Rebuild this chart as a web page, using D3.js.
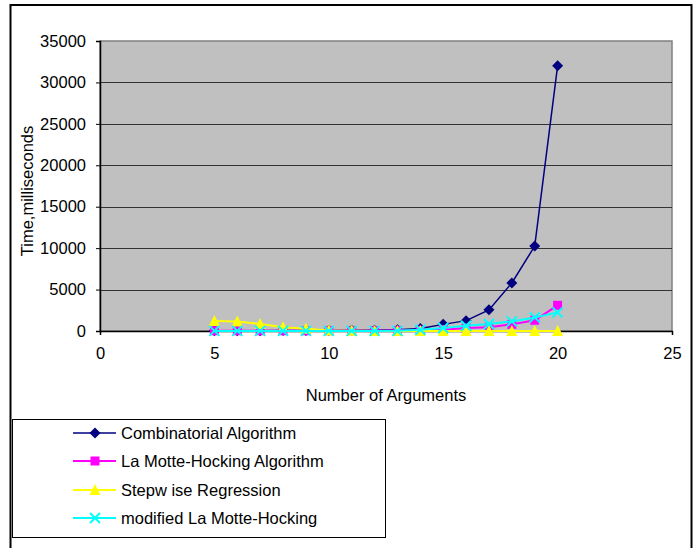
<!DOCTYPE html>
<html lang="en">
<head>
<meta charset="UTF-8">
<title>Chart</title>
<script src="https://d3js.org/d3.v7.min.js"></script>
<style type="text/css">
  body { margin: 0; background: #fff; }
  text { font-family: "Liberation Sans", Arial, sans-serif; fill: #000; }
</style>
</head>
<body>
<script>
// data
var args = [5, 6, 7, 8, 9, 10, 11, 12, 13, 14, 15, 16, 17, 18, 19, 20];
var combinatorial = [20, 30, 40, 50, 60, 70, 80, 100, 150, 300, 800, 1250, 2550, 5800, 10250, 32000];
var laMotte = [30, 30, 30, 30, 30, 30, 30, 40, 50, 100, 160, 360, 450, 800, 1300, 3100];
var stepwise = [1200, 1150, 850, 450, 280, 60, 20, 10, 10, 5, 5, 5, 5, 5, 5, 5];
var modified = [10, 10, 10, 10, 10, 10, 10, 10, 20, 150, 360, 640, 850, 1160, 1640, 2250];
var seriesNames = ["Combinatorial Algorithm", "La Motte-Hocking Algorithm", "Stepw ise Regression", "modified La Motte-Hocking"];
var seriesColors = ["#000080", "#ff00ff", "#ffff00", "#00ffff"];
var seriesMarkers = ["diamond", "square", "triangle", "cross"];
var xTicks = [0, 5, 10, 15, 20, 25];
var yTicks = [0, 5000, 10000, 15000, 20000, 25000, 30000, 35000];

var series = [combinatorial, laMotte, stepwise, modified];

var svg = d3.select("body").append("svg")
  .attr("width", 699)
  .attr("height", 548);

// chart border
svg.append("rect")
  .attr("x", 10.5).attr("y", 5)
  .attr("width", 681).attr("height", 600)
  .attr("fill", "none").attr("stroke", "#000").attr("stroke-width", 2);

var x = d3.scaleLinear().domain([0, 25]).range([100, 672]);
var y = d3.scaleLinear().domain([0, 35000]).range([331, 41]);

// plot area
svg.append("rect")
  .attr("x", x(0)).attr("y", y(35000))
  .attr("width", x(25) - x(0)).attr("height", y(0) - y(35000))
  .attr("fill", "#c0c0c0").attr("stroke", "#808080").attr("stroke-width", 1.5);

// gridlines
svg.selectAll(".grid")
  .data(yTicks.slice(1, -1))
  .enter().append("line")
  .attr("x1", x(0)).attr("x2", x(25))
  .attr("y1", function(d) { return Math.round(y(d)) + 0.5; })
  .attr("y2", function(d) { return Math.round(y(d)) + 0.5; })
  .attr("stroke", "#333").attr("stroke-width", 1.2);

// axes
var yAxis = d3.axisLeft(y).tickValues(yTicks).tickSize(4).tickPadding(10).tickFormat(d3.format("d"));
var gy = svg.append("g").attr("transform", "translate(" + x(0) + ",0)").call(yAxis);
gy.selectAll("text").style("font-size", "16.5px");
gy.select(".domain").attr("stroke", "#000").attr("stroke-width", 1.5);

var xAxis = d3.axisBottom(x).tickValues(xTicks).tickSize(4).tickPadding(12);
var gx = svg.append("g").attr("transform", "translate(0," + y(0) + ")").call(xAxis);
gx.selectAll("text").style("font-size", "16.5px");
gx.select(".domain").attr("stroke", "#000").attr("stroke-width", 1.5);

// axis titles
svg.append("text")
  .attr("transform", "translate(33,191) rotate(-90)")
  .attr("text-anchor", "middle")
  .style("font-size", "16.5px")
  .text("Time,milliseconds");

svg.append("text")
  .attr("x", 386).attr("y", 401)
  .attr("text-anchor", "middle")
  .style("font-size", "16.5px")
  .text("Number of Arguments");

// marker shapes
function marker(g, type, color) {
  if (type == "diamond") {
    g.append("path").attr("d", "M0,-5.5L5.5,0L0,5.5L-5.5,0Z").attr("fill", color);
  } else if (type == "square") {
    g.append("rect").attr("x", -4.5).attr("y", -4.5).attr("width", 9).attr("height", 9).attr("fill", color);
  } else if (type == "triangle") {
    g.append("path").attr("d", "M0,-6L5.5,5L-5.5,5Z").attr("fill", color);
  } else {
    g.append("path").attr("d", "M-5,-5L5,5M-5,5L5,-5").attr("stroke", color).attr("stroke-width", 2);
  }
}

var line = d3.line()
  .x(function(d, i) { return x(args[i]); })
  .y(function(d) { return y(d); });

series.forEach(function(vals, s) {
  svg.append("path")
    .datum(vals)
    .attr("d", line)
    .attr("fill", "none")
    .attr("stroke", seriesColors[s])
    .attr("stroke-width", s == 0 ? 1.5 : 2);
  vals.forEach(function(v, i) {
    var g = svg.append("g").attr("transform", "translate(" + x(args[i]) + "," + y(v) + ")");
    marker(g, seriesMarkers[s], seriesColors[s]);
  });
});

// legend
svg.append("rect")
  .attr("x", 12.5).attr("y", 419.5)
  .attr("width", 373).attr("height", 118)
  .attr("fill", "#fff").attr("stroke", "#000").attr("stroke-width", 1);

var legendRows = [433, 461, 490, 518];
seriesNames.forEach(function(name, s) {
  var ly = legendRows[s];
  svg.append("line")
    .attr("x1", 73).attr("x2", 116)
    .attr("y1", ly).attr("y2", ly)
    .attr("stroke", seriesColors[s]).attr("stroke-width", s == 0 ? 1.5 : 2);
  var g = svg.append("g").attr("transform", "translate(95," + ly + ")");
  marker(g, seriesMarkers[s], seriesColors[s]);
  svg.append("text")
    .attr("x", 121).attr("y", ly + 6)
    .style("font-size", "16.5px")
    .text(name);
});
</script>
</body>
</html>
